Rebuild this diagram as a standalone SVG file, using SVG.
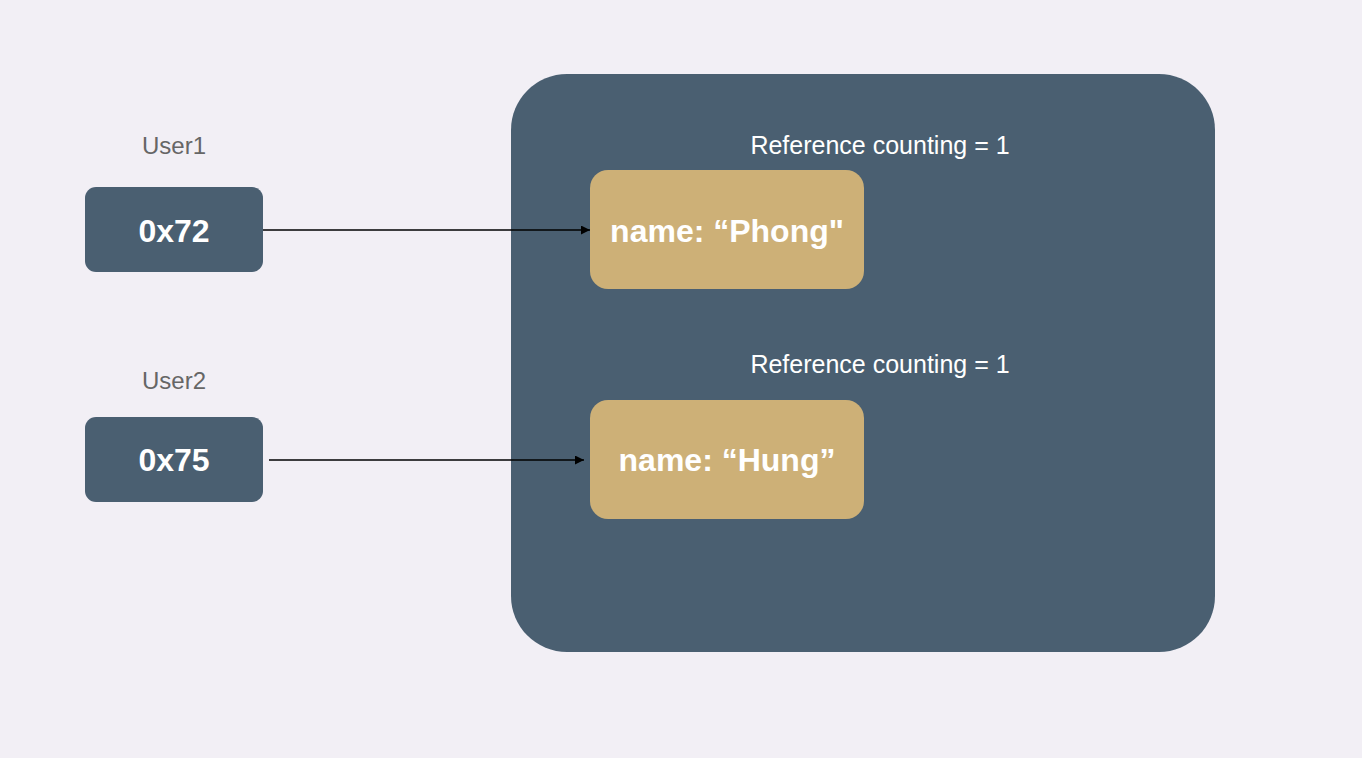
<svg xmlns="http://www.w3.org/2000/svg" width="1362" height="758" viewBox="0 0 1362 758">
<defs>
<style>
.bg{fill:#f2eff5}
.dark{fill:#4a5f71}
.gold{fill:#cdb077}
.lbl{font-family:"Liberation Sans",Arial,sans-serif;font-size:24px;fill:#666666;text-anchor:middle}
.ref{font-family:"Liberation Sans",Arial,sans-serif;font-size:25px;fill:#ffffff;text-anchor:middle}
.big{font-family:"Liberation Sans",Arial,sans-serif;font-size:32px;font-weight:bold;fill:#ffffff;text-anchor:middle}
.conn{stroke:#000000;stroke-width:1.6;fill:none}
</style>
<marker id="arr" viewBox="0 0 10 10" refX="10" refY="5" markerWidth="10" markerHeight="9" markerUnits="userSpaceOnUse" orient="auto">
<path d="M0,0 L10,5 L0,10 z" fill="#000000"/>
</marker>
</defs>
<rect class="bg" x="0" y="0" width="1362" height="758"/>
<g id="heap">
<rect class="dark" x="511" y="74" width="704" height="578" rx="56" ry="56"/>
</g>
<g id="ref1">
<text class="ref" x="880" y="154">Reference counting = 1</text>
</g>
<g id="ref2">
<text class="ref" x="880" y="373">Reference counting = 1</text>
</g>
<g id="user1">
<text class="lbl" x="174" y="154">User1</text>
<rect class="dark" x="85" y="187" width="178" height="85" rx="11" ry="11"/>
<text class="big" x="174" y="242">0x72</text>
</g>
<g id="user2">
<text class="lbl" x="174" y="389">User2</text>
<rect class="dark" x="85" y="417" width="178" height="85" rx="11" ry="11"/>
<text class="big" x="174" y="471">0x75</text>
</g>
<g id="obj1">
<rect class="gold" x="590" y="170" width="274" height="119" rx="18" ry="18"/>
<text class="big" x="727" y="242">name: “Phong"</text>
</g>
<g id="obj2">
<rect class="gold" x="590" y="400" width="274" height="119" rx="18" ry="18"/>
<text class="big" x="727" y="471">name: “Hung”</text>
</g>
<g id="connectors">
<line class="conn" x1="263" y1="230" x2="590" y2="230" marker-end="url(#arr)"/>
<line class="conn" x1="269" y1="460" x2="584" y2="460" marker-end="url(#arr)"/>
</g>
</svg>
